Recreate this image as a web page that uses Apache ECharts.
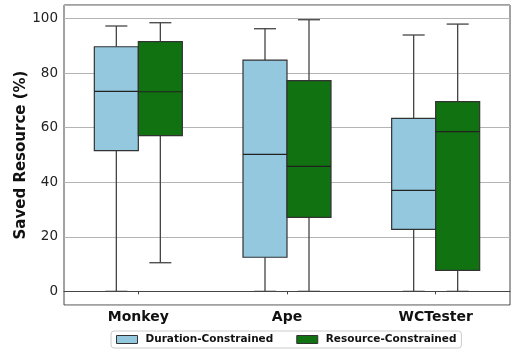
<!DOCTYPE html>
<html>
<head>
<meta charset="utf-8">
<script src="https://cdn.jsdelivr.net/npm/echarts@6/dist/echarts.min.js"></script>
<style>html,body{margin:0;padding:0;background:#fff}#c{width:511px;height:350px}</style>
</head>
<body>
<div id="c"></div>
<script>
// categories
const categories = ['Monkey', 'Ape', 'WCTester'];
// [min, Q1, median, Q3, max] per category
const durationStats = [
  [0, 51.6, 73.3, 89.7, 97.3],
  [0, 12.5, 50.2, 84.8, 96.3],
  [0, 22.7, 37.0, 63.4, 94.0]
];
const resourceStats = [
  [10.5, 57.1, 73.2, 91.6, 98.5],
  [0, 27.1, 45.8, 77.3, 99.6],
  [0, 7.7, 58.6, 69.6, 98.0]
];
const seriesNames = ['Duration-Constrained', 'Resource-Constrained'];
const seriesColors = ['#93c8df', '#107210'];
const yTicks = [0, 20, 40, 60, 80, 100];

const font = 'DejaVu Sans';

function makeRender(side) {
  return function (params, api) {
    const c = api.value(0);
    const center = api.coord([c, 0])[0];
    const band = api.size([1, 0])[0];
    const w = band * 0.296;
    const x0 = side === 0 ? center - w : center;
    const xm = x0 + w / 2;
    const yMin = api.coord([c, api.value(1)])[1];
    const yQ1 = api.coord([c, api.value(2)])[1];
    const yMed = api.coord([c, api.value(3)])[1];
    const yQ3 = api.coord([c, api.value(4)])[1];
    const yMax = api.coord([c, api.value(5)])[1];
    const capW = w / 2;
    const wStyle = { stroke: '#444', lineWidth: 1.3 };
    return {
      type: 'group',
      children: [
        { type: 'line', shape: { x1: xm, y1: yQ1, x2: xm, y2: yMin }, style: wStyle },
        { type: 'line', shape: { x1: xm, y1: yQ3, x2: xm, y2: yMax }, style: wStyle },
        { type: 'line', shape: { x1: xm - capW / 2, y1: yMin, x2: xm + capW / 2, y2: yMin }, style: wStyle },
        { type: 'line', shape: { x1: xm - capW / 2, y1: yMax, x2: xm + capW / 2, y2: yMax }, style: wStyle },
        { type: 'rect', shape: { x: x0, y: yQ3, width: w, height: yQ1 - yQ3 },
          style: { fill: seriesColors[side], stroke: '#333', lineWidth: 1.2 } },
        { type: 'line', shape: { x1: x0, y1: yMed, x2: x0 + w, y2: yMed }, style: { stroke: '#222', lineWidth: 1.2 } }
      ]
    };
  };
}

const chart = echarts.init(document.getElementById('c'), null, { renderer: 'canvas' });
chart.setOption({
  animation: false,
  textStyle: { fontFamily: font },
  grid: { left: 64, right: 1, top: 5, bottom: 45, show: true, borderColor: '#444', borderWidth: 1,
          containLabel: false, outerBoundsMode: 'none' },
  legend: {
    left: 111, top: 331,
    padding: [3, 5, 3, 5],
    borderColor: '#ccc', borderWidth: 1, borderRadius: 3,
    itemWidth: 21, itemHeight: 8, itemGap: 23,
    textStyle: { fontFamily: font, fontWeight: 'bold', fontSize: 10.5, color: '#111', padding: [0, 0, 0, 3] },
    data: seriesNames.map((n, i) => ({
      name: n, icon: 'rect',
      itemStyle: { color: seriesColors[i], borderColor: '#333', borderWidth: 1 }
    }))
  },
  xAxis: {
    type: 'category', data: categories, boundaryGap: true,
    axisLine: { show: true, lineStyle: { color: '#444', width: 1 } },
    axisTick: { show: true, alignWithLabel: true, length: 3, lineStyle: { color: '#444' } },
    axisLabel: { fontFamily: font, fontWeight: 'bold', fontSize: 14, color: '#111', margin: 5 },
    splitLine: { show: false }
  },
  yAxis: {
    type: 'value', min: -5, max: 105, splitNumber: 5,
    name: 'Saved Resource (%)', nameLocation: 'middle', nameGap: 35, nameMoveOverlap: false,
    nameTextStyle: { fontFamily: font, fontWeight: 'bold', fontSize: 15, color: '#111' },
    axisLine: { show: false }, axisTick: { show: false },
    axisLabel: {
      fontFamily: font, fontSize: 13.5, color: '#222', margin: 6,
      showMinLabel: false, showMaxLabel: false,
      formatter: v => (yTicks.indexOf(v) >= 0 ? String(v) : '')
    },
    splitLine: { show: true, lineStyle: { color: '#b4b4b4', width: 1 } }
  },
  series: [0, 1].map(side => ({
    name: seriesNames[side],
    type: 'custom',
    renderItem: makeRender(side),
    itemStyle: { color: seriesColors[side] },
    encode: { x: 0, y: [1, 2, 3, 4, 5] },
    data: categories.map((c, i) => [i].concat(side === 0 ? durationStats[i] : resourceStats[i]))
  }))
});
</script>
</body>
</html>
